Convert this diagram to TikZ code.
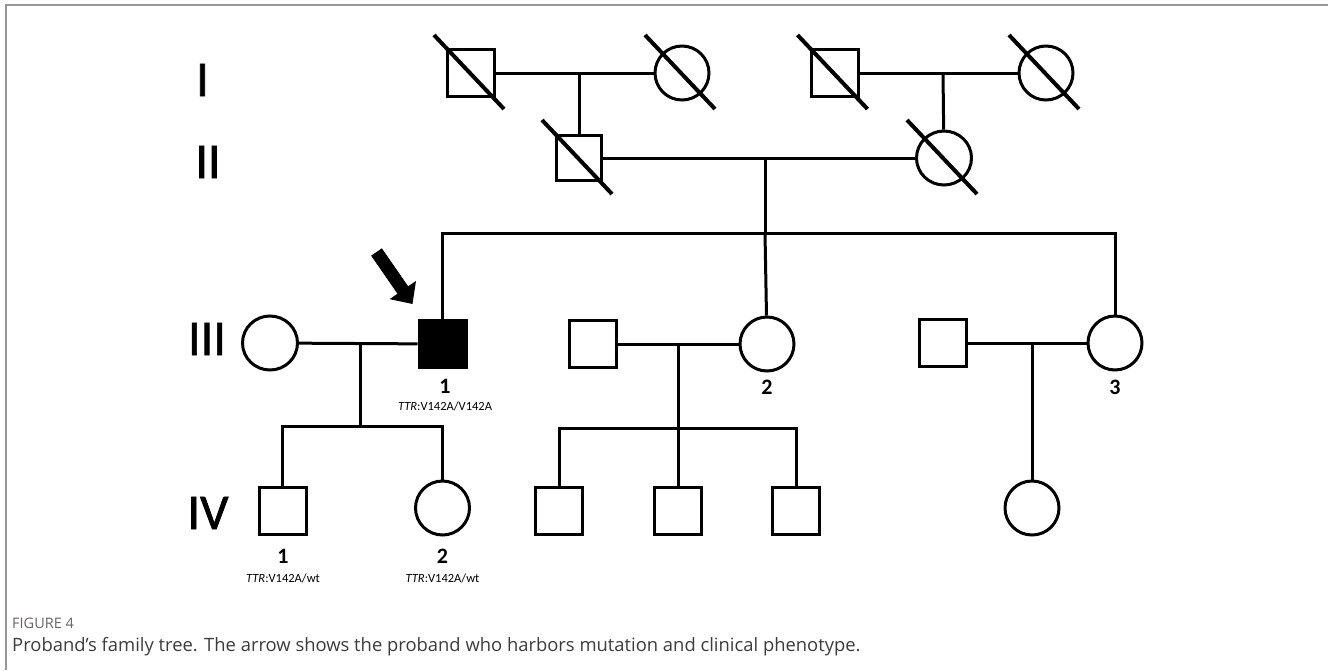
\documentclass[tikz,border=0pt]{standalone}
\usepackage{fontspec}
\setmainfont{Carlito}
\newfontfamily\captionfont{Open Sans}
\newfontfamily\genfont[FakeBold=1.4]{Carlito}
\usepackage{tikz}
\usetikzlibrary{arrows.meta}
\usetikzlibrary{shapes}
\usetikzlibrary{calc}
\definecolor{framegray}{RGB}{150,150,150}
\definecolor{figgray}{RGB}{105,100,100}
\definecolor{captext}{RGB}{60,60,60}
\tikzset{
 ped line/.style={line width=3pt},
 slash/.style={line width=4pt},
 proband arrow/.style={line width=13pt, -{Triangle[length=17pt,width=31pt]}}
}
\tikzstyle{male}=[draw, rectangle, ped line, minimum size=47pt, inner sep=0pt]
\tikzstyle{female}=[draw, ellipse, ped line, minimum width=54pt, minimum height=54pt, inner sep=0pt]
\tikzstyle{affected}=[fill=black]
\tikzstyle{gen}=[font=\genfont\fontsize{50}{50}\selectfont, anchor=base, inner sep=0pt]
\tikzstyle{num}=[font=\bfseries\fontsize{22}{22}\selectfont, anchor=base, inner sep=0pt]
\tikzstyle{geno}=[font=\fontsize{12.5}{13}\selectfont, anchor=base, inner sep=0pt]
\newcommand{\deceased}[1]{
 \draw[slash] ($(#1.center)+(-37,-38)$) -- ($(#1.center)+(33,36)$);
}
\newcommand{\genotype}[1]{{\itshape TTR}:#1}

\begin{document}
\begin{tikzpicture}[x=1pt, y=-1pt]
 \useasboundingbox (0,0) rectangle (1328,670);
 \draw[framegray, line width=1.5pt] (6,670) -- (6,5) -- (1328,5);
%
 \node[gen] (g1) at (202.5,96) {I};
 \node[gen] (g2) at (208,178) {II};
 \node[gen] (g3) at (207,355) {III};
 \node[gen] (g4) at (208,529) {IV};
%
 \node[male] (i1) at (471,73) {};
 \node[female] (i2) at (682,73) {};
 \node[male] (i3) at (834.5,73) {};
 \node[female] (i4) at (1046,73) {};
 \node[male, minimum size=45pt] (ii1) at (579,158) {};
 \node[female, minimum width=55pt] (ii2) at (944,158) {};
%
 \node[female, minimum width=55pt] (iii1) at (270,343) {};
 \node[male, affected] (iii2) at (442.5,344) {};
 \node[male] (iii3) at (593,344) {};
 \node[female] (iii4) at (767,344) {};
 \node[male] (iii5) at (943,343) {};
 \node[female] (iii6) at (1115,343) {};
%
 \node[male] (iv1) at (282.5,511) {};
 \node[female] (iv2) at (442.5,508) {};
 \node[male] (iv3) at (559,511) {};
 \node[male] (iv4) at (678,511) {};
 \node[male] (iv5) at (796,511) {};
 \node[female] (iv6) at (1032,508) {};
%
 \deceased{i1}
 \deceased{i2}
 \deceased{i3}
 \deceased{i4}
 \deceased{ii1}
 \deceased{ii2}
%
 \coordinate (m1) at (579,73);
 \coordinate (m2) at (943,73);
 \coordinate (m3) at (765,158);
 \coordinate (s3) at (765,233);
 \coordinate (m4) at (360,343);
 \coordinate (s4) at (360,426);
 \coordinate (m5) at (678,344);
 \coordinate (s5) at (678,428);
 \coordinate (m6) at (1032,343);
%
 \draw[ped line] (i1) -- (i2);
 \draw[ped line] (i3) -- (i4);
 \draw[ped line] (m1) -- (ii1);
 \draw[ped line] (m2) -- (ii2);
 \draw[ped line] (ii1) -- (ii2);
 \draw[ped line] (m3) -- (s3);
 \draw[ped line] (iii2) |- (s3) -| (iii6);
 \draw[ped line] (s3) -- (iii4);
%
 \draw[ped line] (iii1) -- (iii2);
 \draw[ped line] (m4) -- (s4);
 \draw[ped line] (iv1) |- (s4) -| (iv2);
 \draw[ped line] (iii3) -- (iii4);
 \draw[ped line] (m5) -- (s5);
 \draw[ped line] (iv3) |- (s5) -| (iv5);
 \draw[ped line] (s5) -- (iv4);
 \draw[ped line] (iii5) -- (iii6);
 \draw[ped line] (m6) -- (iv6);
%
 \coordinate (arrowtail) at ($(iii2.north west)+(-41,-67)$);
 \coordinate (arrowtip) at ($(iii2.north west)+(-5,-15)$);
 \draw[proband arrow] (arrowtail) -- (arrowtip);
%
 \node[num] (l-iii2) at (445,393) {1};
 \node[geno] (t-iii2) at (445,410) {\genotype{V142A/V142A}};
 \node[num] (l-iii4) at (767,394) {2};
 \node[num] (l-iii6) at (1115,394) {3};
 \node[num] (l-iv1) at (283,563) {1};
 \node[geno] (t-iv1) at (283,582) {\genotype{V142A/wt}};
 \node[num] (l-iv2) at (442.5,563) {2};
 \node[geno] (t-iv2) at (442.5,582) {\genotype{V142A/wt}};
%
 \node[anchor=base west, inner sep=0pt, text=figgray, font=\captionfont\fontsize{14.5}{15}\selectfont] (fig) at (12,628) {FIGURE 4};
 \node[anchor=base west, inner sep=0pt, text=captext, font=\captionfont\fontsize{18.4}{19}\selectfont] (cap) at (12,651) {Proband’s family tree. The arrow shows the proband who harbors mutation and clinical phenotype.};
\end{tikzpicture}
\end{document}
